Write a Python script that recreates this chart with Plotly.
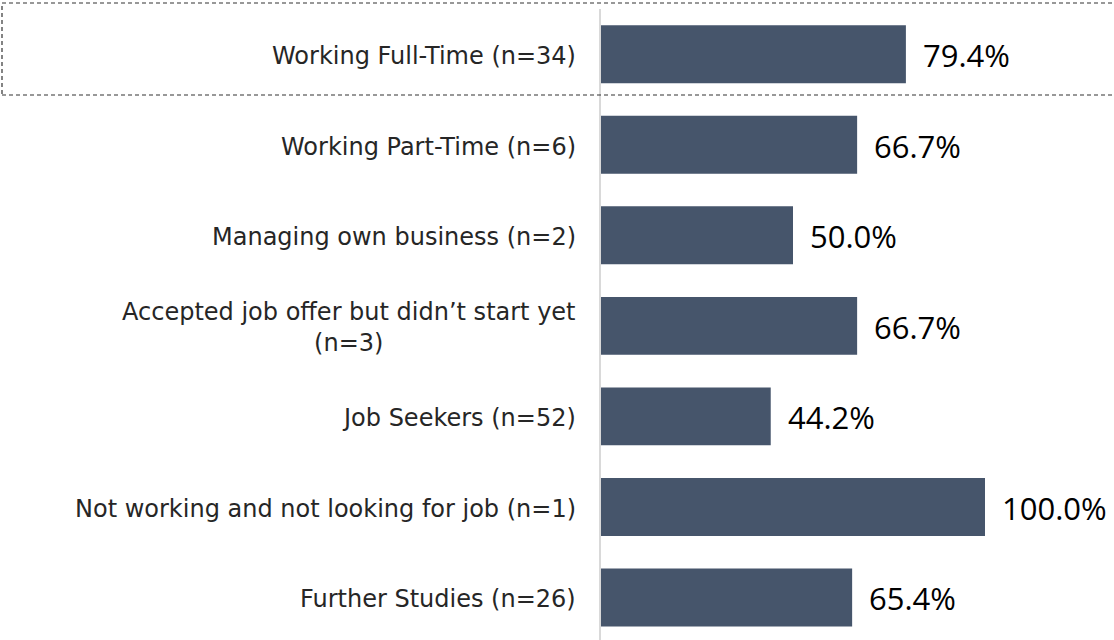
import plotly.graph_objects as go

categories = [
    "Working Full-Time (n=34)",
    "Working Part-Time (n=6)",
    "Managing own business (n=2)",
    "Accepted job offer but didn\u2019t start yet<br>(n=3)",
    "Job Seekers (n=52)",
    "Not working and not looking for job (n=1)",
    "Further Studies (n=26)",
]
values = [79.4, 66.7, 50.0, 66.7, 44.2, 100.0, 65.4]

LABEL_FONT = "DejaVu Sans"
VALUE_FONT = "Open Sans"
BAR = "#46556B"

fig = go.Figure(go.Bar(
    x=values, y=categories, orientation="h",
    marker=dict(color=BAR, line=dict(width=0)),
    width=0.64, hoverinfo="skip",
))

annotations = []
for c, v in zip(categories, values):
    annotations.append(dict(x=v, y=c, xref="x", yref="y", text=f"{v:.1f}%",
                            xanchor="left", yanchor="middle", xshift=15, yshift=-1, showarrow=False,
                            font=dict(family=VALUE_FONT, size=31, color="#000000")))
    annotations.append(dict(x=0, y=c, xref="x", yref="y", text=c, align="center",
                            xanchor="right", yanchor="middle", xshift=-23, yshift=-2, showarrow=False,
                            font=dict(family=LABEL_FONT, size=24, color="#262626")))

W, H = 1114, 640
L, T = 601, 9
pw = W - L
ph = H - T

def px_x(p):
    return (p - L) / pw

def px_y(p):
    return 1 - (p - T) / ph

fig.update_layout(
    width=W, height=H,
    margin=dict(l=L, r=0, t=T, b=0, pad=0),
    plot_bgcolor="white", paper_bgcolor="white",
    showlegend=False,
    xaxis=dict(range=[0, pw / 3.84], visible=False, fixedrange=True),
    yaxis=dict(range=[6.47, -0.5], showticklabels=False, showgrid=False, zeroline=False,
               showline=True, linecolor="#d9d9d9", linewidth=2, ticks="", fixedrange=True),
    annotations=annotations,
    shapes=[dict(type="rect", xref="paper", yref="paper",
                 x0=px_x(2), x1=px_x(1120), y0=px_y(95), y1=px_y(3),
                 line=dict(color="#333333", width=1.2, dash="4px,3px"), layer="above")],
)

fig.write_html("out.html", config={"displayModeBar": False},
               post_script="document.body.style.margin='0';")
